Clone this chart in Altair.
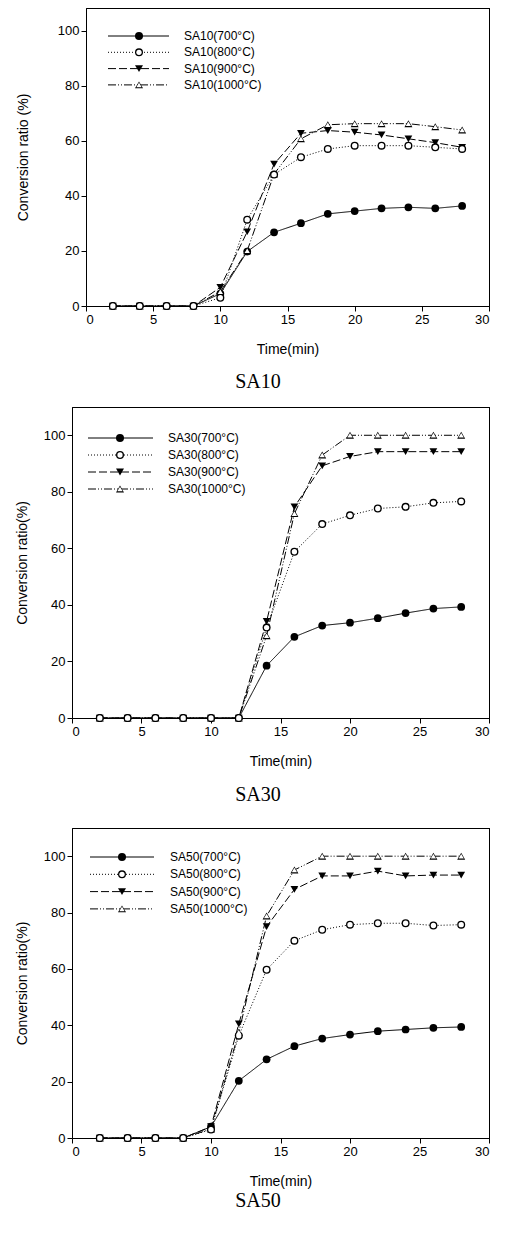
import altair as alt
import pandas as pd

time = [2, 4, 6, 8, 10, 12, 14, 16, 18, 20, 22, 24, 26, 28]
temps = ["700", "800", "900", "1000"]
x_ticks = [0, 5, 10, 15, 20, 25, 30]
y_ticks = [0, 20, 40, 60, 80, 100]

sa10_700 = [0, 0, 0, 0, 4.5, 19.8, 26.8, 30.1, 33.5, 34.5, 35.5, 35.9, 35.5, 36.4]
sa10_800 = [0, 0, 0, 0, 3.0, 31.4, 47.8, 54.1, 57.1, 58.3, 58.3, 58.3, 57.7, 57.1]
sa10_900 = [0, 0, 0, 0, 6.8, 27.0, 51.6, 62.8, 63.8, 63.2, 62.2, 60.8, 59.4, 57.7]
sa10_1000 = [0, 0, 0, 0, 5.2, 20.1, 48.0, 60.8, 65.9, 66.3, 66.3, 66.3, 65.2, 64.0]

sa30_700 = [0, 0, 0, 0, 0, 0, 18.5, 28.7, 32.7, 33.7, 35.3, 37.1, 38.7, 39.3]
sa30_800 = [0, 0, 0, 0, 0, 0, 32.0, 58.8, 68.6, 71.7, 74.1, 74.7, 76.1, 76.6]
sa30_900 = [0, 0, 0, 0, 0, 0, 34.2, 74.7, 89.2, 92.5, 94.2, 94.2, 94.2, 94.2]
sa30_1000 = [0, 0, 0, 0, 0, 0, 29.1, 72.3, 93.0, 100, 100, 100, 100, 100]

sa50_700 = [0, 0, 0, 0, 4.0, 20.3, 27.9, 32.6, 35.3, 36.7, 37.9, 38.5, 39.1, 39.4]
sa50_800 = [0, 0, 0, 0, 3.0, 36.3, 59.7, 70.0, 73.9, 75.7, 76.2, 76.2, 75.4, 75.7]
sa50_900 = [0, 0, 0, 0, 4.0, 40.5, 75.0, 88.2, 93.0, 93.0, 94.7, 93.0, 93.3, 93.3]
sa50_1000 = [0, 0, 0, 0, 3.2, 37.5, 78.8, 95.1, 100, 100, 100, 100, 100, 100]

dash_range = [[1, 0], [1, 2], [8, 3], [8, 2, 1, 2, 1, 2]]
filled_temps = ["700", "900"]
open_temps = ["800", "1000"]
filled_shapes = ["circle", "triangle-down"]
open_shapes = ["circle", "triangle-up"]
LINE_PATH = "M-5,0H5"

SANS = "Liberation Sans"
SERIF = "Liberation Serif"


def make_df(sample, series):
    rows = []
    for temp, vals in zip(temps, series):
        label = f"{sample}({temp}°C)"
        for t, v in zip(time, vals):
            rows.append({"t": t, "v": v, "temp": temp, "series": label,
                         "series_m": f"{sample} {temp}", "series_i": f"{sample}-{temp}"})
    return pd.DataFrame(rows)


def panel(sample, series, w, h, xrange, ymax, ytitle, yoff, ytpad,
          leg, cap_dx, cap_off):
    df = make_df(sample, series)
    dom = [f"{sample}({t}°C)" for t in temps]
    fdom = [f"{sample} {t}" for t in filled_temps]
    odom = [f"{sample} {t}" for t in open_temps]
    idom = [f"{sample}-{t}" for t in open_temps]
    df_f = df[df["temp"].isin(filled_temps)]
    df_o = df[df["temp"].isin(open_temps)]
    xs = alt.Scale(domain=[0, 30], nice=False, zero=False, range=xrange)
    ys = alt.Scale(domain=[0, ymax], nice=False, zero=False)
    x = alt.X("t:Q", scale=xs,
              axis=alt.Axis(values=x_ticks, title="Time(min)", titlePadding=16))
    y = alt.Y("v:Q", scale=ys,
              axis=alt.Axis(values=y_ticks, title=ytitle, titlePadding=ytpad, offset=yoff))
    x2 = alt.X("t:Q", scale=xs,
               axis=alt.Axis(orient="top", labels=False, ticks=False, title=None,
                             minExtent=0, maxExtent=0))
    y2 = alt.Y("v:Q", scale=ys,
               axis=alt.Axis(orient="right", labels=False, ticks=False, title=None,
                             minExtent=0, maxExtent=0))
    lw = leg["lw"]
    s = (lw / 5.0) ** 2
    sp = 13 + leg["rp"]
    lines = alt.Chart(df).mark_line(color="black", strokeWidth=1).encode(
        x=x, y=y,
        strokeDash=alt.StrokeDash(
            "series:N",
            scale=alt.Scale(domain=dom, range=dash_range),
            legend=alt.Legend(orient="none", legendX=leg["lx"], legendY=leg["ly"], title=None,
                              symbolType=LINE_PATH, symbolSize=s,
                              symbolStrokeColor="black", symbolStrokeWidth=1,
                              symbolFillColor="transparent",
                              labelOffset=leg["loff"], rowPadding=leg["rp"], padding=0,
                              labelFont=SANS, labelFontSize=12, labelColor="black",
                              zindex=1),
        ),
        order=alt.Order("t:Q"),
    )

    def mk_leg(dy, fillc, size, z):
        return alt.Legend(orient="none", legendX=leg["mx"], legendY=leg["ly"] + dy, title=None,
                          labelExpr="''", rowPadding=2 * sp - 14, padding=0,
                          symbolSize=size, symbolFillColor=fillc, symbolStrokeColor=fillc,
                          symbolStrokeWidth=0, symbolOpacity=1, labelFont=SANS,
                          labelFontSize=14, zindex=z)

    pts_f = alt.Chart(df_f).mark_point(size=60, filled=True, color="black", opacity=1).encode(
        x=x2, y=y2,
        shape=alt.Shape("series_m:N", scale=alt.Scale(domain=fdom, range=filled_shapes),
                        legend=mk_leg(0, "black", 64, 2)),
    )
    pts_o = alt.Chart(df_o).mark_point(size=64, filled=True, color="black", opacity=1).encode(
        x=x2, y=y2,
        shape=alt.Shape("series_m:N", scale=alt.Scale(domain=odom, range=open_shapes),
                        legend=mk_leg(sp, "black", 64, 2)),
    )
    pts_i = alt.Chart(df_o).mark_point(size=28, filled=True, color="white", opacity=1).encode(
        x=x2, y=y2,
        shape=alt.Shape("series_i:N", scale=alt.Scale(domain=idom, range=open_shapes),
                        legend=mk_leg(sp, "white", 28, 3)),
    )
    return alt.layer(lines, pts_f, pts_o, pts_i).resolve_axis(
        x="independent", y="independent"
    ).resolve_scale(shape="independent").resolve_legend(shape="independent").properties(
        width=w, height=h,
        title=alt.TitleParams(sample, orient="bottom", anchor="middle", frame="group",
                              dx=cap_dx, offset=cap_off, font=SERIF, fontSize=20,
                              fontWeight="normal", color="black"),
    )


leg1 = {"lx": 45.5, "ly": 21, "lw": 61, "loff": 38.5, "rp": 3.3, "mx": 46}
leg2 = {"lx": 27.5, "ly": 24, "lw": 65, "loff": 40.5, "rp": 4.0, "mx": 27}
leg3 = {"lx": 29, "ly": 22, "lw": 64, "loff": 41, "rp": 4.3, "mx": 29}

p1 = panel("SA10", [sa10_700, sa10_800, sa10_900, sa10_1000], 403, 298, [0, 403], 108.36,
           "Conversion ratio (%)", 0, 27, leg1, -29.5, 15.6)
p2 = panel("SA30", [sa30_700, sa30_800, sa30_900, sa30_1000], 403, 311, [-14, 403], 110,
           "Conversion ratio(%)", 14, 14, leg2, -29.5, 16.6)
p3 = panel("SA50", [sa50_700, sa50_800, sa50_900, sa50_1000], 403, 310, [-14, 403], 110,
           "Conversion ratio(%)", 14, 14, leg3, -29.5, 3)

indep = dict(x="independent", y="independent", strokeDash="independent", shape="independent")
lindep = dict(strokeDash="independent", shape="independent")

top = alt.vconcat(p1, p2, spacing=15).resolve_scale(**indep).resolve_legend(**lindep)
chart = alt.vconcat(top, p3, spacing=23).resolve_scale(**indep).resolve_legend(**lindep)

chart = chart.properties(
    padding={"left": 7, "top": 0, "right": 0, "bottom": 0}
).configure_view(
    stroke=None
).configure_axis(
    domainColor="black", tickColor="black", labelColor="black", titleColor="black",
    labelFont=SANS, titleFont=SANS, labelFontSize=13, titleFontSize=14,
    titleFontWeight="normal", tickSize=5, grid=False, domainWidth=1, tickWidth=1,
    labelPadding=2
).configure_legend(
    labelFont=SANS, labelFontSize=12, labelColor="black"
)

chart.save("out.html", embed_options={"renderer": "svg", "actions": False})
